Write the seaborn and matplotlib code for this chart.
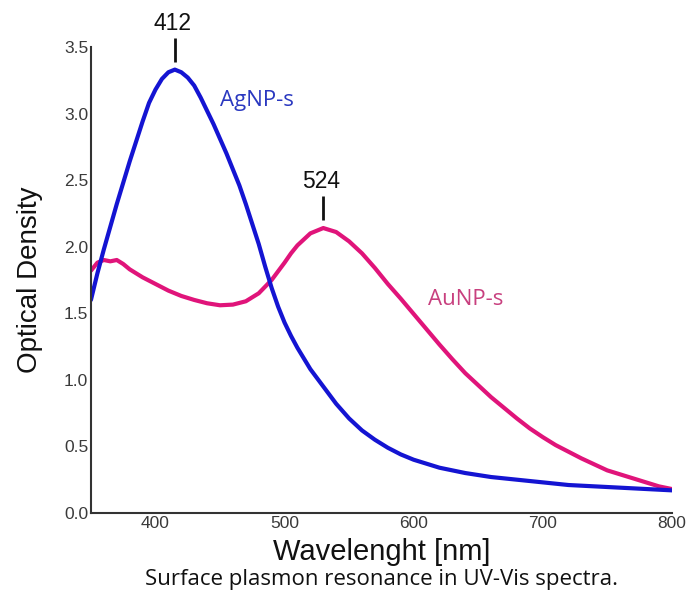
import matplotlib
matplotlib.use("Agg")
import matplotlib.pyplot as plt
import seaborn as sns
import pandas as pd

# ---- data ----
ag_wavelength = [350, 355, 360, 365, 370, 375, 380, 385, 390, 395, 400, 405, 410, 415,
                 420, 425, 430, 435, 440, 445, 450, 455, 460, 465, 470, 475, 480, 485,
                 490, 495, 500, 505, 510, 520, 530, 540, 550, 560, 570, 580, 590, 600,
                 610, 620, 640, 660, 680, 700, 720, 740, 760, 780, 800]
ag_od = [1.60, 1.80, 1.98, 2.15, 2.32, 2.48, 2.64, 2.79, 2.94, 3.08, 3.18, 3.26, 3.31, 3.33,
         3.31, 3.27, 3.21, 3.12, 3.02, 2.92, 2.81, 2.70, 2.58, 2.46, 2.32, 2.17, 2.02, 1.85,
         1.69, 1.55, 1.43, 1.33, 1.24, 1.08, 0.95, 0.82, 0.71, 0.62, 0.55, 0.49, 0.44, 0.40,
         0.37, 0.34, 0.30, 0.27, 0.25, 0.23, 0.21, 0.20, 0.19, 0.18, 0.17]

au_wavelength = [350, 355, 360, 365, 370, 375, 380, 390, 400, 410, 420, 430, 440, 450,
                 460, 470, 480, 490, 500, 505, 510, 520, 530, 540, 550, 560, 570, 580,
                 590, 600, 610, 620, 630, 640, 650, 660, 670, 680, 690, 700, 710, 720,
                 730, 740, 750, 760, 770, 780, 790, 800]
au_od = [1.82, 1.88, 1.90, 1.89, 1.90, 1.87, 1.83, 1.77, 1.72, 1.67, 1.63, 1.60, 1.575, 1.56,
         1.565, 1.59, 1.65, 1.75, 1.88, 1.95, 2.01, 2.10, 2.14, 2.11, 2.04, 1.95, 1.84, 1.72,
         1.61, 1.495, 1.38, 1.265, 1.155, 1.05, 0.96, 0.87, 0.79, 0.71, 0.635, 0.57, 0.51, 0.46,
         0.41, 0.365, 0.32, 0.29, 0.26, 0.23, 0.20, 0.18]

series_names = ["AgNP-s", "AuNP-s"]
peak_positions = [415, 530]
peak_labels = ["412", "524"]
x_ticks = [400, 500, 600, 700, 800]
y_ticks = [0.0, 0.5, 1.0, 1.5, 2.0, 2.5, 3.0, 3.5]

line_colors = ["#1414d2", "#e0147a"]
label_colors = ["#2a38c0", "#c8407f"]

sns.set_style("white")
plt.rcParams["font.family"] = ["Liberation Sans", "DejaVu Sans"]

fig = plt.figure(figsize=(6.89, 6.06), dpi=100)
ax = fig.add_axes([0.132, 0.1535, 0.843, 0.769])

df_ag = pd.DataFrame({"wl": ag_wavelength, "od": ag_od})
df_au = pd.DataFrame({"wl": au_wavelength, "od": au_od})

sns.lineplot(data=df_au, x="wl", y="od", ax=ax, color=line_colors[1], linewidth=3.0)
sns.lineplot(data=df_ag, x="wl", y="od", ax=ax, color=line_colors[0], linewidth=3.0)

ax.set_xlim(350, 800)
ax.set_ylim(0, 3.5)
ax.set_xticks(x_ticks)
ax.set_yticks(y_ticks)
ax.set_xticklabels([str(v) for v in x_ticks])
ax.set_yticklabels([f"{v:.1f}" for v in y_ticks])
ax.tick_params(axis="both", length=0, labelsize=12.5, labelcolor="#3a3a3a", pad=2)

for side in ["top", "right"]:
    ax.spines[side].set_visible(False)
for side in ["left", "bottom"]:
    ax.spines[side].set_color("#333333")
    ax.spines[side].set_linewidth(1.5)

ax.set_xlabel("Wavelenght [nm]", fontsize=21, color="#111111", labelpad=5)
ax.set_ylabel("Optical Density", fontsize=20, color="#111111", labelpad=15)

# peak markers
peaks = [max(ag_od), max(au_od)]
for xp, yp, lab in zip(peak_positions, peaks, peak_labels):
    ax.vlines(xp, yp + 0.06, yp + 0.24, color="#111111", linewidth=2, clip_on=False)
    ax.text(xp - 1.5, yp + 0.26, lab, ha="center", va="bottom", fontsize=16.5,
            color="#111111", clip_on=False)

# series labels
ax.text(450, 3.10, series_names[0], color=label_colors[0], fontsize=16,
        family=["Open Sans", "DejaVu Sans"], va="center", ha="left")
ax.text(611, 1.60, series_names[1], color=label_colors[1], fontsize=16,
        family=["Open Sans", "DejaVu Sans"], va="center", ha="left")

fig.text(0.553, 0.044, "Surface plasmon resonance in UV-Vis spectra.", ha="center",
         va="center", fontsize=16, color="#111111", family=["Open Sans", "DejaVu Sans"])

fig.savefig("out.png", dpi=100)
